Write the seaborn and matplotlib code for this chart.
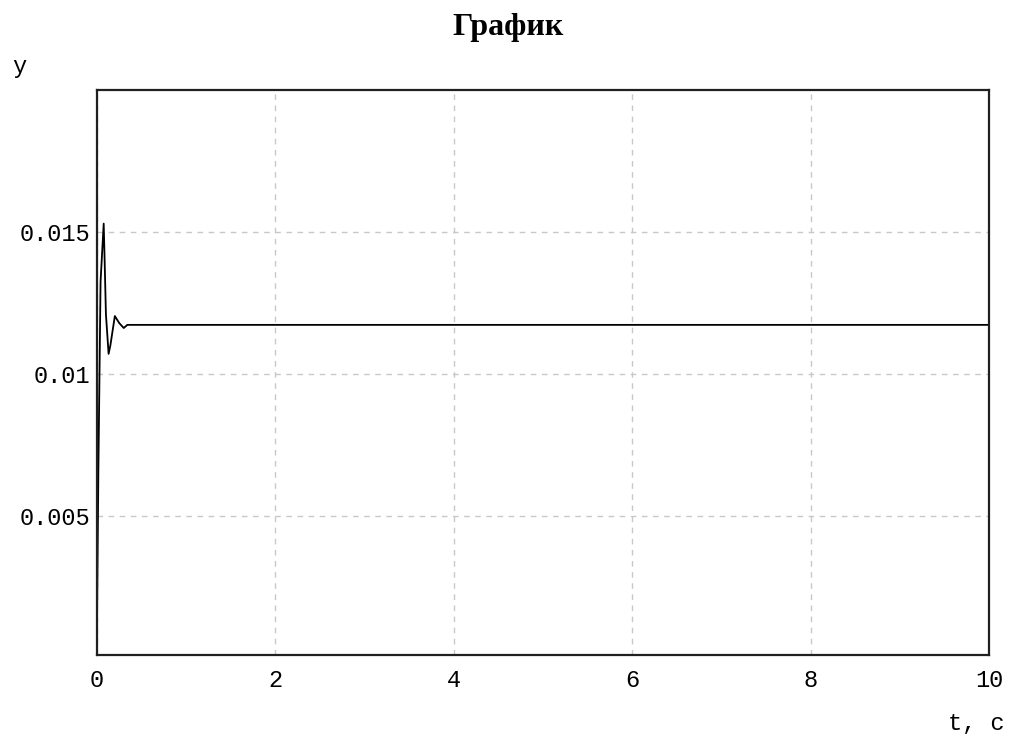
import numpy as np
import pandas as pd
import matplotlib
matplotlib.use("Agg")
import matplotlib.pyplot as plt
import seaborn as sns

# Data (transient response, then steady state)
t_values = [0.0, 0.015, 0.04, 0.075, 0.085, 0.10, 0.13, 0.15, 0.20, 0.25, 0.30, 0.34, 10.0]
y_values = [0.0013, 0.0065, 0.01325, 0.01528, 0.01406, 0.0121, 0.0107, 0.0110,
            0.01203, 0.01178, 0.01161, 0.01172, 0.01172]
x_ticks = [0, 2, 4, 6, 8, 10]
x_tick_labels = ["0", "2", "4", "6", "8", "10"]
y_ticks = [0.005, 0.01, 0.015]
y_tick_labels = ["0.005", "0.01", "0.015"]
title_text = "График"
x_label = "t, c"
y_label = "y"

sns.set_theme(style="white")
plt.rcParams['font.family'] = ['Liberation Mono', 'DejaVu Sans Mono']
plt.rcParams['text.color'] = 'black'

W, H = 1009, 735
fig = plt.figure(figsize=(W / 100, H / 100), dpi=100)
ax = fig.add_axes([97 / W, 1 - 655 / H, (989 - 97) / W, (655 - 90) / H])

df = pd.DataFrame({"t": t_values, "y": y_values})
sns.lineplot(data=df, x="t", y="y", ax=ax, sort=False, estimator=None,
             color="black", linewidth=1.3, zorder=3)

ax.set_xlim(0, 10)
ax.set_ylim(0.00011, 0.01998)
ax.set_xticks(x_ticks)
ax.set_xticklabels(x_tick_labels)
ax.set_yticks(y_ticks)
ax.set_yticklabels(y_tick_labels)
ax.set_xlabel("")
ax.set_ylabel("")

ax.grid(True, color="#c8c8c8", linestyle=(0, (4, 4)), linewidth=1.0, zorder=1)
for s in ax.spines.values():
    s.set_visible(True)
    s.set_color("#202020")
    s.set_linewidth(1.6)
    s.set_zorder(4)

ax.tick_params(axis="both", length=0, labelsize=17, colors="black")
ax.tick_params(axis="y", pad=5)
ax.tick_params(axis="x", pad=10)
for lab in ax.get_xticklabels() + ax.get_yticklabels():
    lab.set_fontfamily(['Liberation Mono', 'DejaVu Sans Mono'])

fig.text(508 / W, 1 - 27 / H, title_text, ha="center", va="center", color="black",
         fontsize=23, fontweight="bold", family=['Liberation Serif', 'DejaVu Serif'])
fig.text(19 / W, 1 - 66 / H, y_label, ha="center", va="center", color="black",
         fontsize=17, family=['Liberation Mono', 'DejaVu Sans Mono'])
fig.text(1005 / W, 1 - 730 / H, x_label, ha="right", va="baseline", color="black",
         fontsize=17, family=['Liberation Mono', 'DejaVu Sans Mono'])

fig.savefig("out.png", dpi=100, facecolor="white")
